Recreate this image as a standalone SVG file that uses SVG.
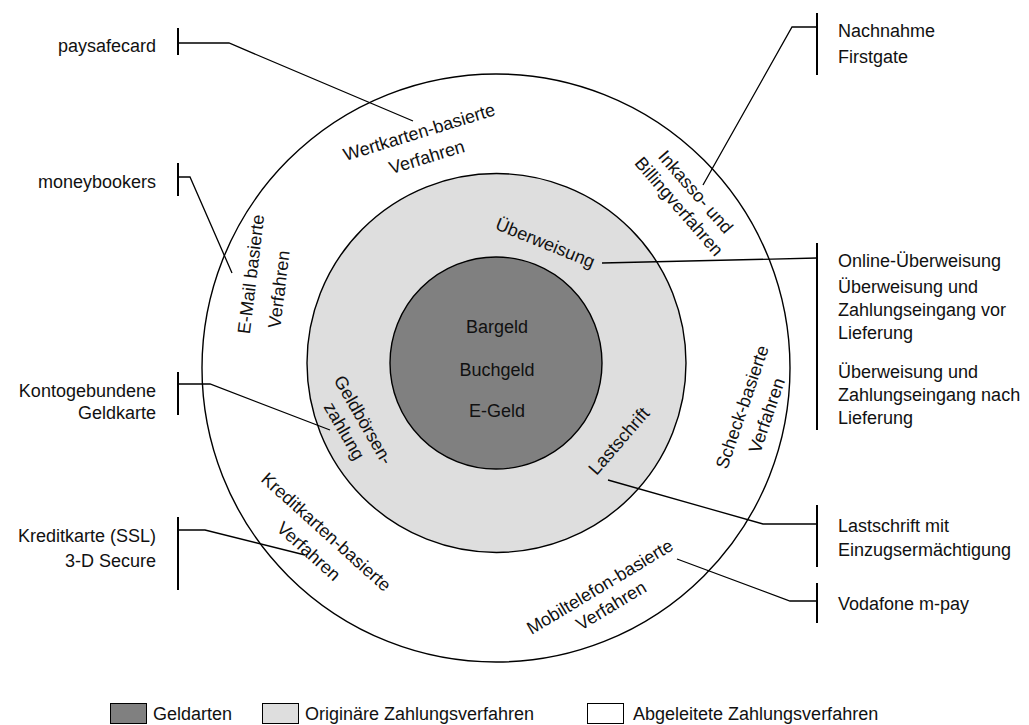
<svg xmlns="http://www.w3.org/2000/svg" width="1029" height="725" viewBox="0 0 1029 725">
<style>
text{font-family:"Liberation Sans",Arial,sans-serif;font-size:18px;fill:#111}
.c{stroke:#000;stroke-width:1.4}
.l{fill:none;stroke:#000;stroke-width:1.3}
.b{fill:none;stroke:#000;stroke-width:2}
.m{text-anchor:middle}
.e{text-anchor:end}
</style>
<rect width="1029" height="725" fill="#fff"/>
<g id="ring-derived"><circle class="c" cx="496" cy="368" r="294" fill="#fff"/></g>
<g id="ring-original"><circle class="c" cx="496.5" cy="363" r="189.5" fill="#dedede"/></g>
<g id="core"><circle class="c" cx="496" cy="363" r="106" fill="#808080"/>
<text class="m" x="497" y="333">Bargeld</text>
<text class="m" x="497" y="376">Buchgeld</text>
<text class="m" x="497" y="417">E-Geld</text>
</g>
<g id="labels-original">
<text class="m" transform="translate(543,248.5) rotate(22)">Überweisung</text>
<text class="m" transform="translate(623.5,445) rotate(-49)">Lastschrift</text>
<text class="m" transform="translate(358,423) rotate(60)"><tspan x="0" y="0">Geldbörsen-</tspan><tspan x="0" y="22">zahlung</tspan></text>
</g>
<g id="labels-derived">
<text class="m" transform="translate(421,138) rotate(-17)"><tspan x="0" y="0">Wertkarten-basierte</tspan><tspan x="0" y="26">Verfahren</tspan></text>
<text class="m" transform="translate(691,196) rotate(49)"><tspan x="0" y="0">Inkasso- und</tspan><tspan x="0" y="22">Billingverfahren</tspan></text>
<text class="m" transform="translate(257,275) rotate(-83)">E-Mail basierte</text>
<text class="m" transform="translate(285,290) rotate(-83)">Verfahren</text>
<text class="m" transform="translate(748,409) rotate(-71)"><tspan x="0" y="0">Scheck-basierte</tspan><tspan x="0" y="26">Verfahren</tspan></text>
<text class="m" transform="translate(322,536.5) rotate(42)"><tspan x="0" y="0">Kreditkarten-basierte</tspan><tspan x="0" y="26">Verfahren</tspan></text>
<text class="m" transform="translate(603,592) rotate(-31)"><tspan x="0" y="0">Mobiltelefon-basierte</tspan><tspan x="0" y="22">Verfahren</tspan></text>
</g>
<g id="connectors">
<polyline class="l" points="178,43 229,43 413,121"/>
<polyline class="l" points="178,177 190,177 232,273"/>
<polyline class="l" points="178,384 210,384 330,430"/>
<polyline class="l" points="178,530 205,530 305,555"/>
<polyline class="l" points="817,27 792,27 703,185"/>
<polyline class="l" points="817,258 602,263"/>
<polyline class="l" points="817,524 763,524 608,480"/>
<polyline class="l" points="817,601 790,601 677,559"/>
</g>
<g id="brackets">
<line class="b" x1="178" y1="28" x2="178" y2="55"/>
<line class="b" x1="178" y1="163" x2="178" y2="196"/>
<line class="b" x1="178" y1="372" x2="178" y2="415"/>
<line class="b" x1="178" y1="517" x2="178" y2="590"/>
<line class="b" x1="817" y1="13" x2="817" y2="75"/>
<line class="b" x1="817" y1="243" x2="817" y2="430"/>
<line class="b" x1="817" y1="505" x2="817" y2="567"/>
<line class="b" x1="817" y1="583" x2="817" y2="623"/>
</g>
<g id="examples-left">
<text class="e" x="156" y="52">paysafecard</text>
<text class="e" x="156" y="188">moneybookers</text>
<text class="e" x="156" y="397">Kontogebundene</text>
<text class="e" x="156" y="419">Geldkarte</text>
<text class="e" x="156" y="542">Kreditkarte (SSL)</text>
<text class="e" x="156" y="567">3-D Secure</text>
</g>
<g id="examples-right">
<text x="838" y="37">Nachnahme</text>
<text x="838" y="63">Firstgate</text>
<text x="838" y="267">Online-Überweisung</text>
<text x="838" y="293">Überweisung und</text>
<text x="838" y="316">Zahlungseingang vor</text>
<text x="838" y="339">Lieferung</text>
<text x="838" y="378">Überweisung und</text>
<text x="838" y="401">Zahlungseingang nach</text>
<text x="838" y="424">Lieferung</text>
<text x="838" y="532">Lastschrift mit</text>
<text x="838" y="556">Einzugsermächtigung</text>
<text x="838" y="610">Vodafone m-pay</text>
</g>
<g id="legend">
<rect x="110.5" y="703.5" width="36" height="20" fill="#808080" stroke="#000" stroke-width="1"/>
<text x="153" y="720">Geldarten</text>
<rect x="262.5" y="703.5" width="36" height="20" fill="#dedede" stroke="#000" stroke-width="1"/>
<text x="305" y="720">Originäre Zahlungsverfahren</text>
<rect x="587.5" y="703.5" width="36" height="20" fill="#fff" stroke="#000" stroke-width="1"/>
<text x="633" y="720">Abgeleitete Zahlungsverfahren</text>
</g>
</svg>
